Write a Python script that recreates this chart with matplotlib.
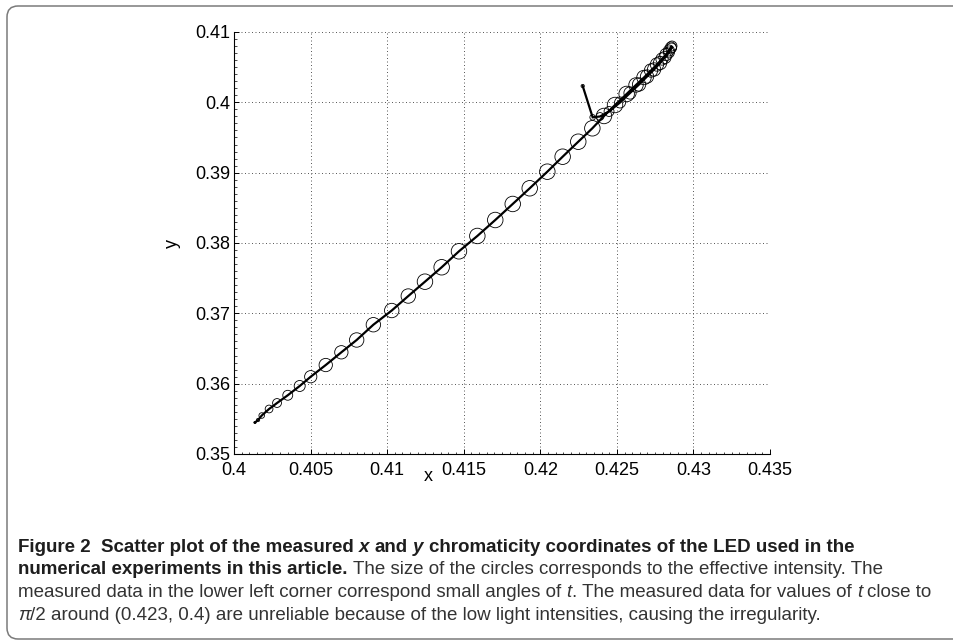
import matplotlib
matplotlib.use('Agg')
import matplotlib.pyplot as plt
from matplotlib.ticker import MultipleLocator, FuncFormatter
from matplotlib.patches import PathPatch
from matplotlib.path import Path
from matplotlib.transforms import IdentityTransform

# ---------------- data ----------------
# measured chromaticity coordinates, in measurement order (t from 0 upwards)
x_coord = [0.40137, 0.40157, 0.40181, 0.40229, 0.40281, 0.40351, 0.40429, 0.40501,
           0.40599, 0.40701, 0.40801, 0.40910, 0.41030, 0.41138, 0.41247, 0.41356,
           0.41469, 0.41589, 0.41706, 0.41820, 0.41931, 0.42046, 0.42146, 0.42248,
           0.42340, 0.42416, 0.42488, 0.42564, 0.42625, 0.42677, 0.42723, 0.42762,
           0.42795, 0.42821, 0.42840, 0.42853, 0.42860,
           0.42857, 0.42840, 0.42814, 0.42782, 0.42743, 0.42697, 0.42645, 0.42586,
           0.42521, 0.42449, 0.42390, 0.42342, 0.42277]
y_coord = [0.35448, 0.35483, 0.35547, 0.35640, 0.35725, 0.35835, 0.35967, 0.36099,
           0.36265, 0.36446, 0.36621, 0.36838, 0.37040, 0.37246, 0.37450, 0.37655,
           0.37882, 0.38100, 0.38327, 0.38555, 0.38778, 0.39014, 0.39227, 0.39440,
           0.39631, 0.39806, 0.39962, 0.40119, 0.40247, 0.40353, 0.40453, 0.40538,
           0.40616, 0.40680, 0.40737, 0.40780, 0.40801,
           0.40772, 0.40709, 0.40638, 0.40559, 0.40467, 0.40367, 0.40254, 0.40133,
           0.39998, 0.39870, 0.39799, 0.39787, 0.40232]
# relative effective intensity (drives circle size)
intensity = [0.14, 0.21, 0.36, 0.50, 0.57, 0.64, 0.71, 0.79, 0.86, 0.86, 0.93, 0.93,
             0.93, 0.93, 1.00, 1.00, 1.00, 1.00, 1.00, 1.00, 1.00, 1.00, 1.00, 1.00,
             1.00, 1.00, 1.00, 1.00, 0.93, 0.93, 0.86, 0.86, 0.79, 0.79, 0.71, 0.71,
             0.64,
             0.64, 0.71, 0.79, 0.86, 0.86, 0.86, 0.86, 0.79, 0.71, 0.64, 0.50, 0.36,
             0.21]

x_ticks = [0.4, 0.405, 0.41, 0.415, 0.42, 0.425, 0.43, 0.435]
y_ticks = [0.35, 0.36, 0.37, 0.38, 0.39, 0.4, 0.41]
x_label = "x"
y_label = "y"

caption_lines = [
    [("Figure 2", 'bold', 'normal'), ("  Scatter plot of the measured ", 'bold', 'normal'),
     ("x", 'bold', 'italic'), (" and ", 'bold', 'normal'), ("y", 'bold', 'italic'),
     (" chromaticity coordinates of the LED used in the", 'bold', 'normal')],
    [("numerical experiments in this article.", 'bold', 'normal'),
     (" The size of the circles corresponds to the effective intensity. The", 'normal', 'normal')],
    [("measured data in the lower left corner correspond small angles of ", 'normal', 'normal'),
     ("t", 'normal', 'italic'), (". The measured data for values of ", 'normal', 'normal'),
     ("t", 'normal', 'italic'), (" close to", 'normal', 'normal')],
    [("\u03c0", 'normal', 'italic'),
     ("/2 around (0.423, 0.4) are unreliable because of the low light intensities, causing the irregularity.",
      'normal', 'normal')],
]

# ---------------- figure ----------------
W, H = 954, 640
DPI = 100
fig = plt.figure(figsize=(W / DPI, H / DPI), dpi=DPI)
fig.patch.set_facecolor('white')

TICK_FONT = ['Liberation Sans', 'DejaVu Sans']
CAP_FONT = ['Liberation Sans', 'DejaVu Sans']

ax = fig.add_axes([234 / W, 1 - 454 / H, 536 / W, 422 / H])
ax.plot(x_coord, y_coord, color='black', lw=1.6, zorder=3, solid_joinstyle='miter')
sizes = [(15.5 * v * 72 / DPI) ** 2 for v in intensity]
ax.scatter(x_coord, y_coord, s=sizes, facecolors='none', edgecolors='black',
           linewidths=0.6, zorder=4)

ax.set_xlim(x_ticks[0], x_ticks[-1])
ax.set_ylim(y_ticks[0], y_ticks[-1])
ax.set_xticks(x_ticks)
ax.set_yticks(y_ticks)
ax.xaxis.set_minor_locator(MultipleLocator(0.0005))
ax.yaxis.set_minor_locator(MultipleLocator(0.001))
fmt = FuncFormatter(lambda v, p: '%g' % round(v, 4))
ax.xaxis.set_major_formatter(fmt)
ax.yaxis.set_major_formatter(fmt)

for s in ['top', 'right']:
    ax.spines[s].set_visible(False)
for s in ['left', 'bottom']:
    ax.spines[s].set_linewidth(0.8)
    ax.spines[s].set_color('black')

ax.tick_params(which='both', direction='in', top=False, right=False, color='black')
ax.tick_params(which='major', length=3.6, width=0.7)
ax.tick_params(which='minor', length=1.8, width=0.5)
ax.tick_params(axis='x', which='major', pad=5.5)
ax.tick_params(axis='y', which='major', pad=2.5)
for lab in ax.get_xticklabels() + ax.get_yticklabels():
    lab.set_fontfamily(TICK_FONT)
    lab.set_fontsize(13)

ax.grid(True, which='major', linestyle=(0, (1, 2.6)), color='#555555', lw=0.7)
ax.set_axisbelow(True)

ax.set_xlabel(x_label, fontsize=13, family=TICK_FONT)
ax.xaxis.set_label_coords((428 - 234) / 536, (454 - 481) / 422)
ax.xaxis.label.set_verticalalignment('baseline')
ax.set_ylabel(y_label, fontsize=13, family=TICK_FONT)
ax.yaxis.set_label_coords((172 - 234) / 536, 0.5)
ax.yaxis.label.set_verticalalignment('center')

# frame around the figure: rounded on the left, open on the right (runs off the picture)
r = 11
xl, yt, yb, xr = 7, H - 6, 1, W + 10
verts = [(xr, yt), (xl + r, yt), (xl, yt), (xl, yt - r), (xl, yb + r), (xl, yb), (xl + r, yb), (xr, yb)]
codes = [Path.MOVETO, Path.LINETO, Path.CURVE3, Path.CURVE3, Path.LINETO, Path.CURVE3, Path.CURVE3,
         Path.LINETO]
frame = PathPatch(Path(verts, codes), transform=IdentityTransform(), fill=False,
                  ec='#7a7a7a', lw=1.1)
fig.add_artist(frame)

# ---------------- caption ----------------
renderer = fig.canvas.get_renderer()
BOLD_COL = '#1e1e1e'
REG_COL = '#333333'


def space_width(size, weight, style):
    a = fig.text(0, 0, 'x x', fontsize=size, fontweight=weight, fontstyle=style, family=CAP_FONT)
    b = fig.text(0, 0, 'xx', fontsize=size, fontweight=weight, fontstyle=style, family=CAP_FONT)
    w = a.get_window_extent(renderer).width - b.get_window_extent(renderer).width
    a.remove()
    b.remove()
    return w


def draw_line(runs, x0, baseline, size, keep=True):
    x = x0
    artists = []
    for txt, weight, style in runs:
        sw = space_width(size, weight, style)
        lead = len(txt) - len(txt.lstrip(' '))
        trail = len(txt) - len(txt.rstrip(' '))
        core = txt.strip(' ')
        x += lead * sw
        col = BOLD_COL if weight == 'bold' else REG_COL
        t = fig.text(x / W, 1 - baseline / H, core, fontsize=size, fontweight=weight,
                     fontstyle=style, family=CAP_FONT, color=col, ha='left', va='baseline')
        bb = t.get_window_extent(renderer)
        x = bb.x1 + trail * sw
        artists.append(t)
    if not keep:
        for a in artists:
            a.remove()
    return x


# fit the font size so the third line spans the same width as in the reference
ref_size = 12.0
end = draw_line(caption_lines[2], 18, 600, ref_size, keep=False)
cap_size = ref_size * (935 - 18) / (end - 18)

baselines = [551.5, 574.5, 597.0, 619.5]
for runs, bl in zip(caption_lines, baselines):
    draw_line(runs, 18, bl, cap_size)

fig.savefig('out.png', dpi=DPI, facecolor='white')
